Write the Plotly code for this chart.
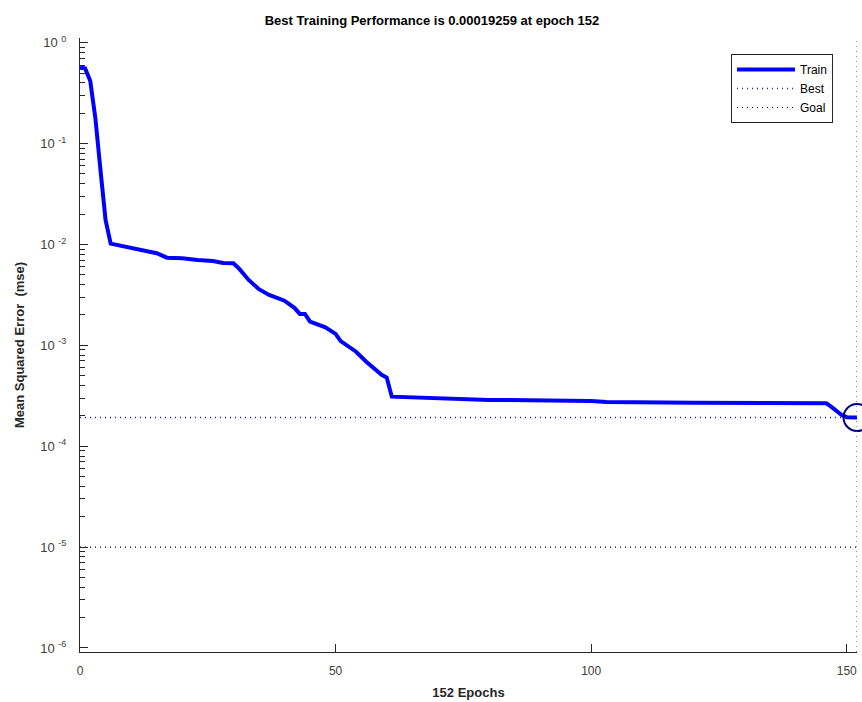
import plotly.graph_objects as go

# ---- data ----
epochs = [0, 1, 2, 3, 4, 5, 6, 8, 10, 12, 15, 17, 20, 23, 26, 28, 30, 31, 33, 35, 37, 40,
          42, 43, 44, 45, 48, 50, 51, 54, 56, 59, 60, 61, 70, 80, 100, 103, 120, 146,
          147, 148, 149, 150, 151, 152]
train_mse = [0.565, 0.557, 0.42, 0.18, 0.055, 0.0175, 0.0102, 0.0097, 0.0092, 0.0088,
             0.0082, 0.0074, 0.0073, 0.0070, 0.00686, 0.00656, 0.00651, 0.00585, 0.00445,
             0.0036, 0.00316, 0.00277, 0.00234, 0.00205, 0.00205, 0.00172, 0.00151, 0.0013,
             0.0011, 0.000865, 0.000689, 0.00051, 0.00048, 0.00031, 0.000298, 0.000288,
             0.000281, 0.000275, 0.00027, 0.000266, 0.000245, 0.000224, 0.000204, 0.000194,
             0.000193, 0.00019259]
best_epoch = 152
best_perf = 0.00019259
goal = 1e-5
n_epochs = 152

ytick_vals = [1e-6, 1e-5, 1e-4, 1e-3, 1e-2, 1e-1, 1e0]
ytick_text = ["10 <sup>-6</sup>", "10 <sup>-5</sup>", "10 <sup>-4</sup>", "10 <sup>-3</sup>",
              "10 <sup>-2</sup>", "10 <sup>-1</sup>", "10 <sup>0</sup>"]
xtick_vals = [0, 50, 100, 150]

title_text = "Best Training Performance is 0.00019259 at epoch 152"
x_title = "152 Epochs"
y_title = "Mean Squared Error  (mse)"

AX = "#262626"
FONT = "Liberation Sans, Arial, Helvetica, sans-serif"
DOT = "1px,4px"

minor_vals = [m * 10.0 ** e for e in range(-7, 1) for m in range(2, 10)]

fig = go.Figure()
fig.add_trace(go.Scatter(x=epochs, y=train_mse, mode="lines", name="Train",
                         line=dict(color="#0000ff", width=4)))
fig.add_trace(go.Scatter(x=[0, n_epochs], y=[best_perf, best_perf], mode="lines", name="Best",
                         line=dict(color="#2020b0", width=1.3, dash=DOT)))
fig.add_trace(go.Scatter(x=[0, n_epochs], y=[goal, goal], mode="lines", name="Goal",
                         line=dict(color="#000000", width=1.2, dash=DOT)))
fig.add_trace(go.Scatter(x=[best_epoch], y=[best_perf], mode="markers", showlegend=False,
                         cliponaxis=False,
                         marker=dict(symbol="circle-open", size=27,
                                     line=dict(color="#00007f", width=2), color="#00007f")))

fig.add_shape(type="line", xref="x", yref="paper", x0=best_epoch, x1=best_epoch, y0=0, y1=1,
              line=dict(color="#3b3bd0", width=1.2, dash=DOT))

fig.update_layout(
    width=862, height=702,
    margin=dict(l=80, r=5, t=38, b=50),
    paper_bgcolor="white", plot_bgcolor="white",
    font=dict(family=FONT, size=11, color=AX),
    title=dict(text="<b>" + title_text + "</b>", x=432 / 862, xanchor="center",
               y=1 - 20 / 702, yanchor="middle", font=dict(size=13, color="#000000")),
    showlegend=True,
    legend=dict(x=(731 - 80) / 777, y=(652 - 54) / 614, xanchor="left", yanchor="top",
                bgcolor="white", bordercolor=AX, borderwidth=1,
                font=dict(size=12, color="#000000"), itemwidth=58,
                tracegroupgap=0),
)

fig.update_xaxes(
    range=[0, n_epochs], tickvals=xtick_vals, ticks="inside", ticklen=8, tickcolor=AX,
    showline=True, linecolor=AX, linewidth=1, showgrid=False, zeroline=False,
    ticklabelstandoff=8, automargin=False,
    tickfont=dict(size=12, color="#404040"),
    title=dict(text="<b>" + x_title + "</b>", font=dict(size=13, color="#262626"), standoff=10),
)
fig.update_yaxes(
    type="log", range=[-6.04, 0.047], tickvals=ytick_vals, ticktext=ytick_text,
    ticks="inside", ticklen=8, tickcolor=AX,
    minor=dict(tickvals=minor_vals, ticks="inside", ticklen=5, tickcolor=AX, showgrid=False),
    showline=True, linecolor=AX, linewidth=1, showgrid=False, zeroline=False,
    ticklabelstandoff=10, automargin=False,
    tickfont=dict(size=13, color="#404040"),
    title=dict(text="<b>" + y_title + "</b>", font=dict(size=13, color="#262626"), standoff=12),
)

fig.write_html("out.html")
